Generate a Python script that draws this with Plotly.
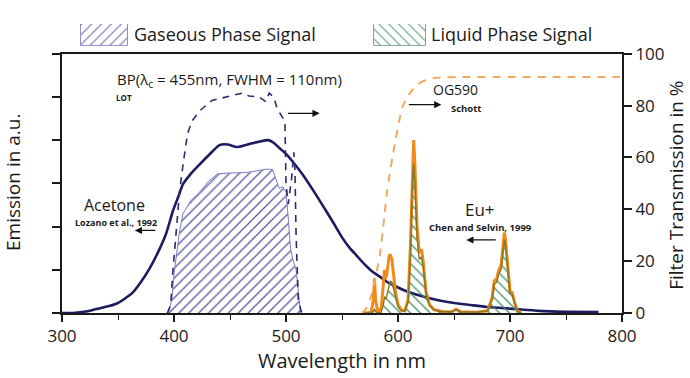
import plotly.graph_objects as go

# ---------------- data ----------------
acetone_nm = [300, 310, 318, 326, 334, 342, 349, 356, 363, 370, 378, 386, 393, 399, 404, 408, 415, 423,
              432, 441, 448, 456, 463, 470, 477, 484, 489, 494, 500, 506, 515, 524, 533, 542, 550, 557,
              563, 570, 577, 585, 592, 600, 607, 620, 637, 650, 666, 680, 696, 710, 726, 750, 779]
acetone_au = [0.0, 0.0, 0.02, 0.06, 0.11, 0.16, 0.22, 0.33, 0.47, 0.70, 1.02, 1.42, 1.84, 2.36, 2.70, 2.98,
              3.22, 3.44, 3.68, 3.89, 3.90, 3.84, 3.88, 3.93, 3.97, 4.00, 3.94, 3.82, 3.68, 3.50, 3.20,
              2.85, 2.48, 2.10, 1.75, 1.50, 1.33, 1.13, 0.96, 0.82, 0.69, 0.59, 0.51, 0.40, 0.29, 0.23,
              0.18, 0.14, 0.11, 0.08, 0.05, 0.03, 0.02]

gas_nm = [395, 398, 400, 402, 405, 408, 415, 423, 431, 439, 450, 465, 475, 483, 488, 491, 494, 497,
          500, 502, 504, 506, 509, 511, 513]
gas_au = [0.0, 0.3, 0.9, 1.3, 1.9, 2.3, 2.6, 2.8, 3.05, 3.22, 3.24, 3.25, 3.30, 3.33, 3.32, 3.10, 2.88,
          2.92, 2.80, 2.20, 1.50, 1.25, 1.00, 0.50, 0.0]

bp_nm = [394, 397, 399, 402, 405, 408, 412, 416, 423, 434, 450, 461, 467, 476, 482, 485, 489, 492,
         496, 499, 500, 502, 505, 507, 508, 509, 511, 514]
bp_pct = [0, 3, 16, 33, 47, 57, 69, 74, 78, 82, 83.7, 84.8, 83.7, 83.3, 81.5, 84.8, 83.3, 79,
          76, 74, 50, 42, 52, 62, 55, 30, 5, 0]

og_nm = [568, 572, 577, 581, 584, 587, 590, 592, 595, 598, 601, 604, 608, 612, 617, 622, 628, 634,
         660, 700, 750, 798]
og_pct = [0, 2, 8, 16, 23, 34, 46, 52, 60, 67, 74, 79.5, 83, 85.6, 88, 89.3, 90.2, 90.7, 91, 91, 91, 91]

eu_nm = [570, 576, 578, 579, 580, 582, 585, 587, 588, 589, 590, 592, 593, 594.5, 596, 598, 600, 603,
         606, 609, 611, 613, 614, 615, 617, 619, 621, 622.5, 625, 628, 632, 640, 648, 652, 656, 670,
         680, 684, 686, 688, 690, 692, 694, 695, 696, 698, 700, 702, 704, 707, 710]
eu_au = [0.0, 0.02, 0.3, 0.8, 0.3, 0.03, 0.1, 0.6, 1.0, 0.8, 0.9, 1.3, 1.36, 1.25, 0.9, 0.45, 0.2, 0.07,
         0.05, 0.3, 1.5, 3.5, 4.0, 3.5, 2.0, 1.4, 1.47, 1.2, 0.5, 0.2, 0.08, 0.03, 0.03, 0.09, 0.03, 0.02,
         0.05, 0.35, 0.75, 0.78, 1.0, 1.1, 1.7, 1.86, 1.7, 1.0, 0.5, 0.47, 0.25, 0.03, 0.0]

liq_nm = eu_nm
liq_au = [0.0, 0.0, 0.03, 0.1, 0.03, 0.0, 0.02, 0.2, 0.38, 0.32, 0.4, 0.65, 0.73, 0.72, 0.55, 0.3, 0.14,
          0.05, 0.04, 0.25, 1.3, 3.05, 3.45, 3.07, 1.76, 1.24, 1.3, 1.07, 0.45, 0.18, 0.07, 0.03, 0.03,
          0.08, 0.03, 0.02, 0.05, 0.32, 0.68, 0.71, 0.91, 1.0, 1.55, 1.69, 1.55, 0.91, 0.45, 0.43, 0.23,
          0.03, 0.0]

legend_names = ["Gaseous Phase Signal", "Liquid Phase Signal"]
x_ticks = [300, 400, 500, 600, 700, 800]
y2_ticks = [0, 20, 40, 60, 80, 100]

# ---------------- styling / layout ----------------
FONT = "Open Sans"
INK = "#1a1a1a"
NAVY = "#1c1c5e"
ORANGE = "#f08a1c"
W, H = 690, 378
L, R, T, B = 62, 68, 10, 65
PW, PH = W - L - R, H - T - B
SX0, SY0 = L, H - B              # plot-area left / bottom in pixels


def px(x):
    return (x - SX0) / PW


def py(y):
    return (SY0 - y) / PH


main_top = py(43)

fig = go.Figure()

# gaseous phase signal (hatched)
fig.add_trace(go.Scatter(
    x=gas_nm, y=gas_au, mode="lines", fill="tozeroy",
    line=dict(color="#7b7bc0", width=1),
    fillpattern=dict(shape="/", fgcolor="#55559f", bgcolor="rgba(255,255,255,0)",
                     size=7, solidity=0.18, fillmode="replace"),
    showlegend=False, xaxis="x", yaxis="y"))

# BP filter (dashed)
fig.add_trace(go.Scatter(
    x=bp_nm, y=bp_pct, mode="lines",
    line=dict(color="#2a2a6c", width=1.6, dash="7px,6px"),
    showlegend=False, xaxis="x", yaxis="y2"))

# OG590 filter (dashed)
fig.add_trace(go.Scatter(
    x=og_nm, y=og_pct, mode="lines",
    line=dict(color="#f2a860", width=2, dash="8px,7px", shape="spline", smoothing=0.6),
    showlegend=False, xaxis="x", yaxis="y2"))

# acetone emission
fig.add_trace(go.Scatter(
    x=acetone_nm, y=acetone_au, mode="lines",
    line=dict(color=NAVY, width=2.6, shape="spline", smoothing=0.6),
    showlegend=False, xaxis="x", yaxis="y"))

# Eu emission
fig.add_trace(go.Scatter(
    x=eu_nm, y=eu_au, mode="lines",
    line=dict(color=ORANGE, width=3),
    showlegend=False, xaxis="x", yaxis="y"))

# liquid phase signal (hatched)
fig.add_trace(go.Scatter(
    x=liq_nm, y=liq_au, mode="lines", fill="tozeroy",
    line=dict(color="#8a7622", width=1.4),
    fillpattern=dict(shape="\\", fgcolor="#3f8f62", bgcolor="rgba(255,255,255,0)",
                     size=7, solidity=0.18, fillmode="replace"),
    showlegend=False, xaxis="x", yaxis="y"))

# custom legend keys (hatched boxes), positioned in pixels
key_x = [104.5, 400]
key_w = [47, 52]
fig.add_trace(go.Bar(
    x=[key_x[0]], y=[1], width=[key_w[0]], base=0, xaxis="x3", yaxis="y3",
    marker=dict(color="white", line=dict(color="#8e8ecc", width=1),
                pattern=dict(shape="/", fgcolor="#6a6ab0", bgcolor="white", size=7,
                             solidity=0.15, fillmode="replace")),
    showlegend=False, hoverinfo="skip"))
fig.add_trace(go.Bar(
    x=[key_x[1]], y=[1], width=[key_w[1]], base=0, xaxis="x3", yaxis="y3",
    marker=dict(color="white", line=dict(color="#7aa890", width=1),
                pattern=dict(shape="\\", fgcolor="#5a9a78", bgcolor="white", size=7,
                             solidity=0.15, fillmode="replace")),
    showlegend=False, hoverinfo="skip"))

annotations = []


def ptext(text, x, y, size, anchor="center", angle=0):
    annotations.append(dict(text=text, x=px(x), y=py(y), xref="paper", yref="paper",
                            xanchor=anchor, yanchor="middle", showarrow=False, textangle=angle,
                            borderpad=0, borderwidth=0,
                            font=dict(family=FONT, size=size, color=INK)))


# legend labels
ptext(legend_names[0], 134, 23, 18, anchor="left")
ptext(legend_names[1], 431, 23, 18, anchor="left")
# axis titles
ptext("Wavelength in nm", 342, 362, 20)
ptext("Emission in a.u.", 13.6, 177, 19, angle=-90)
ptext("Filter Transmission in %", 676.6, 180, 19, angle=-90)


def lab(text, x, y, size, anchor="center", bold=False):
    annotations.append(dict(text=text, x=x, y=y, xref="x", yref="y", xanchor=anchor,
                            yanchor="middle", showarrow=False, borderpad=0, borderwidth=0,
                            font=dict(family=FONT, size=size, color=INK,
                                      weight="bold" if bold else "normal")))


def arrow(x0, x1, y):
    annotations.append(dict(text="", x=x1, y=y, ax=x0, ay=y, xref="x", yref="y", axref="x",
                            ayref="y", showarrow=True, arrowhead=2, arrowsize=1.1,
                            arrowwidth=1.3, arrowcolor="#111111", standoff=0, startstandoff=0))


lab("BP(λ<sub>c</sub> = 455nm, FWHM = 110nm)", 549.6, 5.40, 15, anchor="right")
lab("LOT", 348.0, 4.98, 8, anchor="left", bold=True)
arrow(500.5, 530.0, 4.62)
lab("OG590", 651.6, 5.16, 14)
lab("Schott", 661.0, 4.74, 9.5, bold=True)
arrow(608.4, 638.7, 4.82)
lab("Acetone", 347.2, 2.51, 16)
lab("Lozano et al., 1992", 348.0, 2.10, 9, bold=True)
arrow(384.7, 365.0, 1.91)
lab("Eu+", 673.4, 2.40, 17)
lab("Chen and Selvin, 1999", 673.9, 1.98, 9.5, bold=True)
arrow(688.6, 661.0, 1.69)

axis_font = dict(family=FONT, size=17, color=INK)
fig.update_layout(
    width=W, height=H,
    margin=dict(l=L, r=R, t=T, b=B, pad=0),
    paper_bgcolor="white", plot_bgcolor="white",
    showlegend=False,
    font=dict(family=FONT, color=INK),
    annotations=annotations,
    bargap=0,
    xaxis=dict(range=[300, 800], tickvals=x_ticks, ticks="outside", ticklen=7, tickwidth=1.6,
               tickcolor=INK, showline=True, linecolor=INK, linewidth=2, mirror=True,
               showgrid=False, zeroline=False, tickfont=axis_font,
               minor=dict(dtick=50, ticks="outside", ticklen=5, tickwidth=1.4, tickcolor=INK,
                          showgrid=False),
               anchor="y"),
    yaxis=dict(range=[0, 6], dtick=1, ticks="outside", ticklen=8, tickwidth=1.6, tickcolor=INK,
               showticklabels=False, showline=True, linecolor=INK, linewidth=2,
               showgrid=False, zeroline=False, domain=[0, main_top], anchor="x"),
    yaxis2=dict(range=[0, 100], tickvals=y2_ticks, ticks="outside", ticklen=8, tickwidth=1.6,
                tickcolor=INK, showline=True, linecolor=INK, linewidth=2, side="right",
                overlaying="y", anchor="x", showgrid=False, zeroline=False, tickfont=axis_font),
    xaxis3=dict(range=[SX0, SX0 + PW], domain=[0, 1], anchor="y3", visible=False,
                fixedrange=True),
    yaxis3=dict(range=[0, 1], domain=[py(35), py(12)], anchor="x3", visible=False,
                fixedrange=True),
)

# the page body gets no default margin, so the 690x378 figure fills the window exactly
fig.write_html("out.html", config={"displayModeBar": False},
               post_script="document.body.style.margin = '0px';")
